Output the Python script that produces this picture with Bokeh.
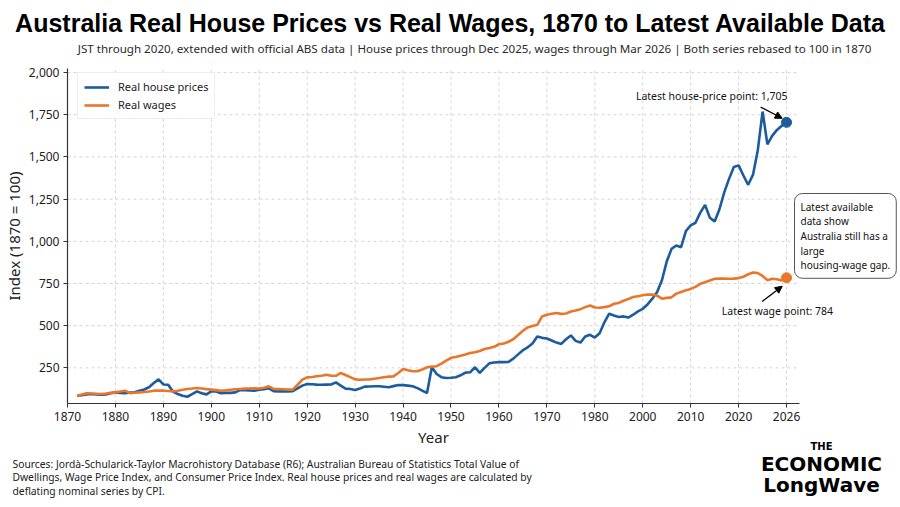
from bokeh.plotting import figure
from bokeh.models import (Range1d, FixedTicker, NumeralTickFormatter, Label,
                          Arrow, NormalHead, LinearAxis)
from bokeh.embed import file_html
from bokeh.resources import INLINE

# Annual series on the chart's decade grid (1872 onward)
years = list(range(1872, 2021))

house_prices = [
    85, 88, 92, 95, 93, 91, 92, 100,
    105, 102, 100, 104, 106, 115, 122, 135, 160, 182,
    152, 150, 110, 95, 85, 79, 95, 111, 100, 93,
    111, 110, 100, 102, 102, 105, 119, 118, 117, 115,
    120, 124, 129, 112, 111, 111, 110, 112, 128, 145,
    155, 153, 151, 150, 151, 152, 164, 145, 127, 125,
    119, 128, 139, 140, 141, 141, 138, 135, 142, 149,
    148, 145, 141, 130, 115, 101, 254, 214, 195, 190,
    192, 195, 206, 222, 224, 254, 220, 250, 277, 282,
    284, 284, 285, 305, 330, 355, 372, 395, 436, 428,
    424, 412, 400, 392, 420, 442, 410, 400, 436, 446,
    430, 455, 520, 571, 560, 552, 555, 548, 565, 585,
    600, 626, 660, 700, 769, 880, 955, 975, 965, 1060,
    1095, 1110, 1170, 1215, 1140, 1118, 1190, 1290, 1370, 1440,
    1450, 1390, 1335, 1395, 1540, 1769, 1575, 1625, 1660, 1685,
    1705,
]

real_wages = [
    85, 92, 99, 98, 97, 95, 98, 102,
    105, 110, 115, 100, 103, 105, 107, 110, 115, 116,
    115, 113, 111, 115, 120, 125, 128, 131, 128, 124,
    121, 118, 115, 117, 120, 123, 125, 127, 128, 129,
    128, 132, 141, 125, 124, 123, 122, 121, 150, 180,
    194, 196, 200, 203, 210, 203, 203, 220, 208, 195,
    182, 180, 181, 182, 186, 190, 195, 198, 200, 220,
    244, 236, 230, 230, 240, 254, 258, 260, 275, 293,
    310, 315, 322, 329, 338, 343, 350, 362, 368, 375,
    390, 395, 405, 420, 445, 470, 490, 498, 505, 555,
    565, 571, 575, 570, 572, 584, 590, 598, 610, 620,
    608, 606, 610, 615, 630, 635, 648, 658, 670, 675,
    680, 685, 684, 678, 660, 665, 668, 690, 700, 710,
    718, 730, 748, 758, 768, 778, 780, 779, 778, 779,
    782, 790, 805, 815, 812, 795, 770, 778, 775, 768,
    784,
]

tick_years = list(range(1870, 2021, 10))
tick_labels = ["1870", "1880", "1890", "1900", "1910", "1920", "1930", "1940",
               "1950", "1960", "1970", "1980", "2000", "2010", "2020", "2026"]
y_ticks = [250, 500, 750, 1000, 1250, 1500, 1750, 2000]

BLUE = "#1c5c9e"
ORANGE = "#e9772b"
W, H = 900, 507
FONT = "Noto Sans"
TITLE_FONT = "Liberation Sans"

# plotting box: data extent and where it sits on the page (pixels)
X_LO, X_HI, Y_LO, Y_HI = 1870, 2022.7, 39, 2024
BOX_L, BOX_R, BOX_T, BOX_B = 67, 799, 68, 403
xs = (BOX_R - BOX_L) / (X_HI - X_LO)
ys = (BOX_B - BOX_T) / (Y_HI - Y_LO)

# the frame spans the whole page so that titles, notes and callouts can sit anywhere
p = figure(width=W, height=H, output_backend="svg", toolbar_location=None,
           x_range=Range1d(X_LO - BOX_L / xs, X_HI + (W - BOX_R) / xs),
           y_range=Range1d(Y_LO - (H - BOX_B) / ys, Y_HI + BOX_T / ys),
           x_axis_type=None, y_axis_type=None,
           min_border=0, min_border_left=0, min_border_right=0,
           min_border_top=0, min_border_bottom=0)
p.outline_line_color = None
p.background_fill_color = "white"
p.border_fill_color = "white"

# dashed grid confined to the plotting box
p.segment(x0=tick_years, y0=Y_LO, x1=tick_years, y1=Y_HI,
          line_color="#d4d4d4", line_dash="3 3", line_width=1)
p.segment(x0=X_LO, y0=y_ticks, x1=X_HI, y1=y_ticks,
          line_color="#d4d4d4", line_dash="3 3", line_width=1)

p.line(years, house_prices, color=BLUE, line_width=2.6, legend_label="Real house prices")
p.line(years, real_wages, color=ORANGE, line_width=2.6, legend_label="Real wages")
p.scatter([years[-1]], [house_prices[-1]], size=10, color=BLUE)
p.scatter([years[-1]], [real_wages[-1]], size=10, color=ORANGE)

# axes pinned to the edges of the plotting box
xa = LinearAxis(fixed_location=Y_LO, bounds=(X_LO, X_HI),
                ticker=FixedTicker(ticks=tick_years),
                major_label_overrides=dict(zip(tick_years, tick_labels)),
                axis_label="Year")
ya = LinearAxis(fixed_location=X_LO, bounds=(Y_LO, Y_HI),
                ticker=FixedTicker(ticks=y_ticks),
                formatter=NumeralTickFormatter(format="0,0"),
                axis_label="Index (1870 = 100)")
for ax in (xa, ya):
    ax.axis_line_color = "#333333"
    ax.axis_line_width = 1.2
    ax.major_tick_line_color = "#333333"
    ax.major_tick_out = 4
    ax.major_tick_in = 0
    ax.minor_tick_line_color = None
    ax.major_label_text_font = FONT
    ax.major_label_text_font_size = "12px"
    ax.major_label_text_color = "#222222"
    ax.axis_label_text_font = FONT
    ax.axis_label_text_font_size = "15px"
    ax.axis_label_text_font_style = "normal"
    ax.axis_label_text_color = "#222222"
    ax.major_label_standoff = 4
xa.axis_label_standoff = 3
ya.axis_label_standoff = 2
p.add_layout(xa, "below")
p.add_layout(ya, "left")

lg = p.legend[0]
lg.location = (77, H - 119)
lg.padding = 6
lg.spacing = 3
lg.glyph_width = 25
lg.glyph_height = 14
lg.label_standoff = 9
lg.label_text_font = FONT
lg.label_text_font_size = "11px"
lg.label_text_color = "#222222"
lg.border_line_color = "#dddddd"
lg.background_fill_alpha = 0.9

# callouts for the latest points
last_year = years[-1]
p.add_layout(Label(x=last_year - 15.6, y=house_prices[-1] + 157,
                   text=f"Latest house-price point: {house_prices[-1]:,}",
                   text_align="center", text_baseline="middle",
                   text_font=FONT, text_font_size="10.5px", text_color="#111111"))
p.add_layout(Arrow(x_start=last_year - 5.4, y_start=house_prices[-1] + 90,
                   x_end=last_year - 0.9, y_end=house_prices[-1] + 24,
                   line_width=1.3, line_color="black",
                   end=NormalHead(size=7, fill_color="black", line_color="black")))
p.add_layout(Label(x=last_year - 1.9, y=real_wages[-1] - 194,
                   text=f"Latest wage point: {real_wages[-1]}",
                   text_align="center", text_baseline="middle",
                   text_font=FONT, text_font_size="10.5px", text_color="#111111"))
p.add_layout(Arrow(x_start=last_year - 5.1, y_start=real_wages[-1] - 140,
                   x_end=last_year - 0.9, y_end=real_wages[-1] - 50,
                   line_width=1.3, line_color="black",
                   end=NormalHead(size=7, fill_color="black", line_color="black")))

def screen_label(x, y, text, **kw):
    lab = Label(x=x, y=H - y, x_units="screen", y_units="screen", text=text, **kw)
    p.add_layout(lab)
    return lab

screen_label(794, 193, "Latest available\ndata show\nAustralia still has a\nlarge\nhousing-wage gap.",
             text_baseline="top", text_align="left", text_font=FONT,
             text_font_size="10px", text_color="#111111", text_line_height=1.05,
             background_fill_color="white", border_line_color="#555555",
             border_line_width=1, border_radius=8, padding=6)

# titles
screen_label(450, 22, "Australia Real House Prices vs Real Wages, 1870 to Latest Available Data",
             text_align="center", text_baseline="middle",
             text_font=TITLE_FONT, text_font_style="bold",
             text_font_size="25px", text_color="black")
screen_label(474, 48, "JST through 2020, extended with official ABS data | House prices through Dec 2025, "
             "wages through Mar 2026 | Both series rebased to 100 in 1870",
             text_align="center", text_baseline="middle", text_font=FONT,
             text_font_size="11.6px", text_color="#2a2a2a")

# footer
screen_label(12, 456, "Sources: Jordà-Schularick-Taylor Macrohistory Database (R6); Australian Bureau of "
             "Statistics Total Value of\nDwellings, Wage Price Index, and Consumer Price Index. Real house "
             "prices and real wages are calculated by\ndeflating nominal series by CPI.",
             text_align="left", text_baseline="top", text_font=FONT,
             text_font_size="10.3px", text_color="#222222", text_line_height=0.97)

# brand mark
screen_label(821, 446, "THE", text_align="center", text_baseline="middle",
             text_font="DejaVu Sans", text_font_style="bold", text_font_size="10px",
             text_color="black")
screen_label(821, 463, "ECONOMIC", text_align="center", text_baseline="middle",
             text_font="DejaVu Sans", text_font_style="bold", text_font_size="20px",
             text_color="black")
screen_label(821, 484, "LongWave", text_align="center", text_baseline="middle",
             text_font="DejaVu Sans", text_font_style="bold", text_font_size="20px",
             text_color="black")

open("out.html", "w").write(file_html(p, INLINE))
